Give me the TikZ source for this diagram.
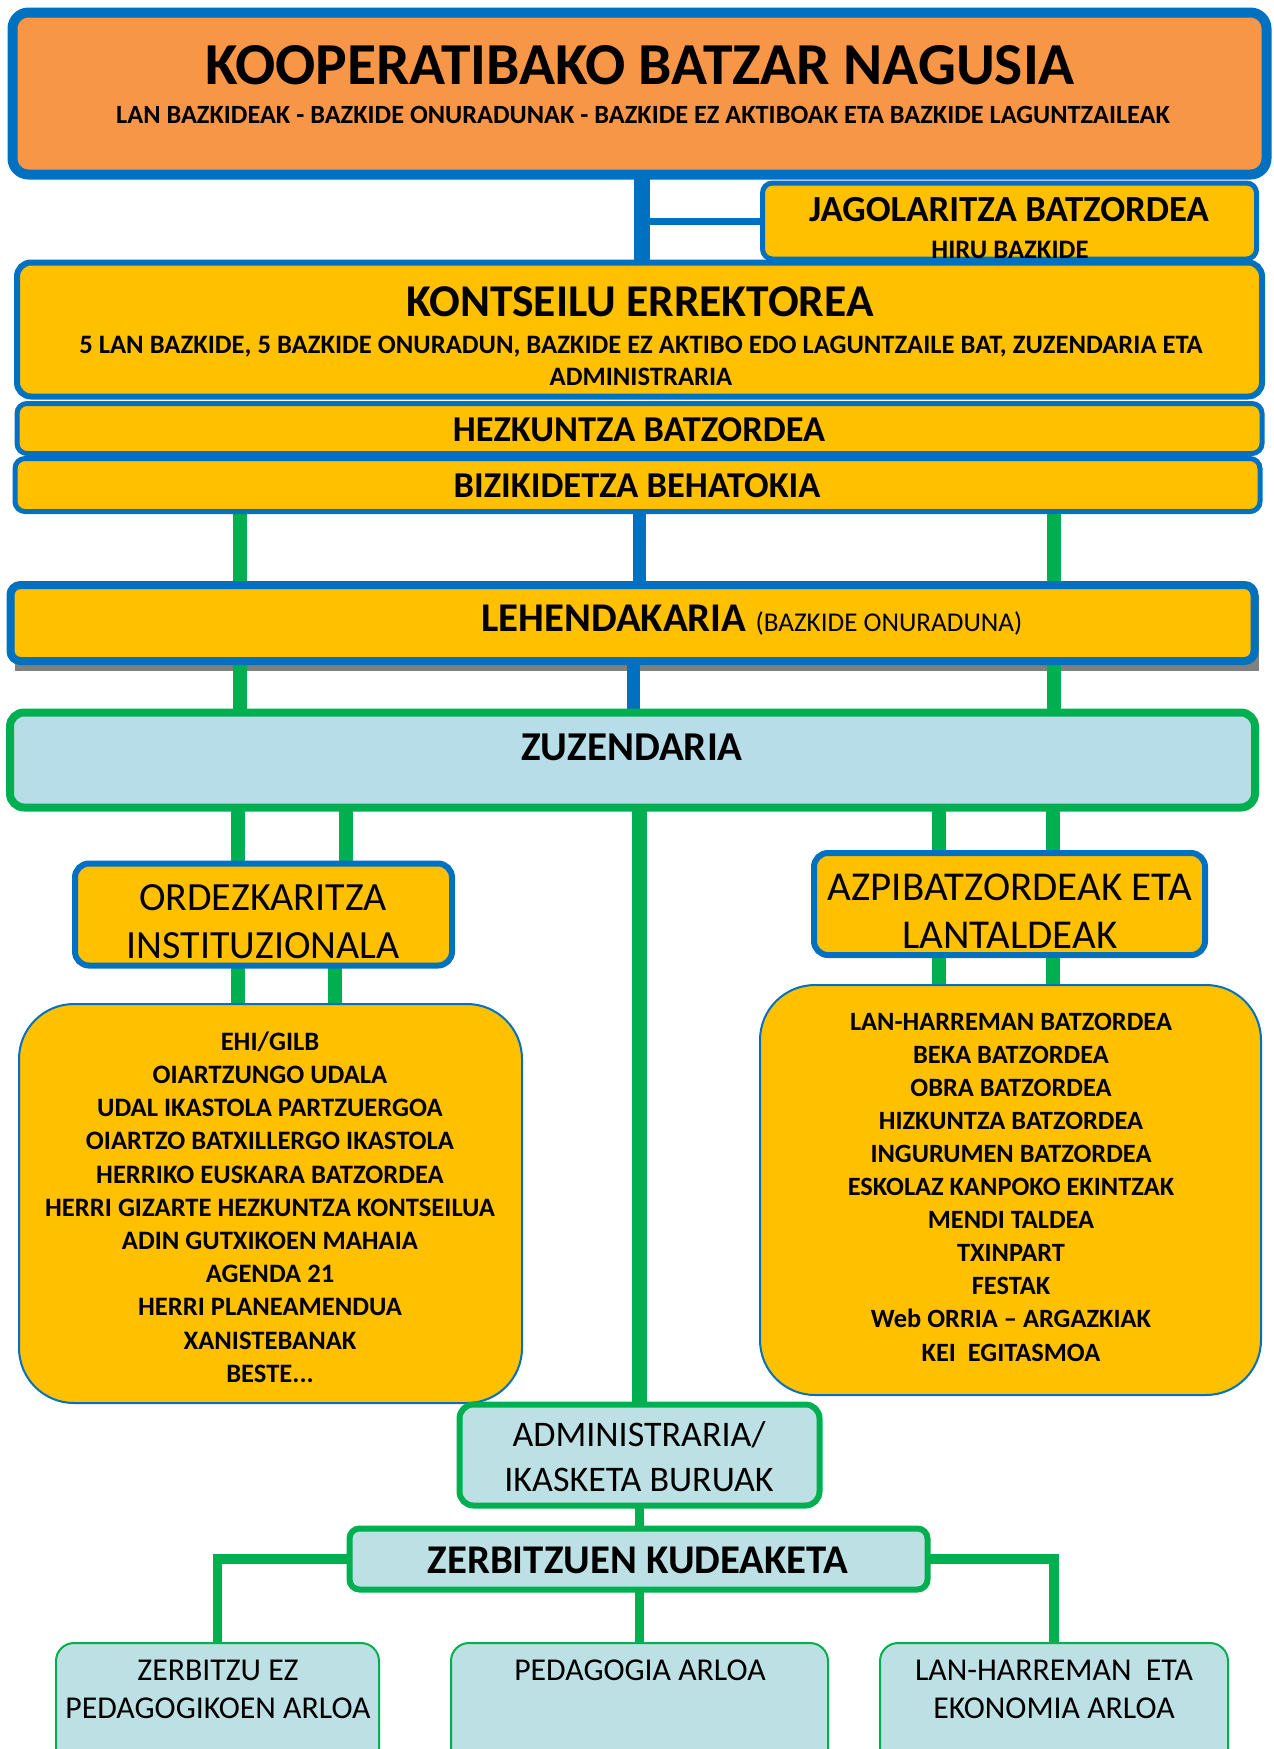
\documentclass[tikz,border=0pt]{standalone}
\usepackage{fontspec}
\setmainfont{Carlito}
\definecolor{cblue}{HTML}{0070C0}
\definecolor{corange}{HTML}{F79646}
\definecolor{cyellow}{HTML}{FFC000}
\definecolor{cgreen}{HTML}{00B050}
\definecolor{clblue}{HTML}{B7DDE8}
\definecolor{cpale}{HTML}{BCE0E3}
\pgfdeclarelayer{bg}
\pgfsetlayers{bg,main}
\begin{document}
\begin{tikzpicture}[x=1pt,y=-1pt,
  bx/.style={rectangle, inner sep=0pt, outer sep=0pt},
  ybox/.style={bx, draw=cblue, fill=cyellow},
  gbox/.style={bx, draw=cgreen, fill=cpale},
  lbl/.style={inner sep=0pt, outer sep=0pt, align=center, text=black},
  bconn/.style={draw=cblue, line width=13pt},
  gconn/.style={draw=cgreen, line width=14pt},
  gthin/.style={draw=cgreen, line width=9.5pt}]
\clip (0,0) rectangle (1274,1749);

% ---- boxes ----
\node[bx, draw=cblue, line width=10pt, fill=corange, rounded corners=16pt,
      minimum width=1254pt, minimum height=162pt] (top) at (639.5,93.5) {};
\node[lbl, font={\fontsize{59.5}{62}\selectfont\bfseries}] (topt) at (640,65) {KOOPERATIBAKO BATZAR NAGUSIA};
\node[lbl, font={\fontsize{26.3}{28}\selectfont\bfseries}] (tops) at (643,115) {LAN BAZKIDEAK - BAZKIDE ONURADUNAK - BAZKIDE EZ AKTIBOAK ETA BAZKIDE LAGUNTZAILEAK};

\node[ybox, line width=5pt, rounded corners=10pt, minimum width=494pt, minimum height=76pt] (jag) at (1009.5,221) {};
\node[lbl, font={\fontsize{36.8}{40}\selectfont\bfseries}] (jagt) at (1009,210) {JAGOLARITZA BATZORDEA};
\node[lbl, font={\fontsize{26.7}{28}\selectfont\bfseries}] (jags) at (1010,250) {HIRU BAZKIDE};

\node[ybox, line width=6pt, rounded corners=14pt, minimum width=1245pt, minimum height=134pt] (kon) at (639.5,329.5) {};
\node[lbl, font={\fontsize{45.5}{48}\selectfont\bfseries}] (kont) at (640,302) {KONTSEILU ERREKTOREA};
\node[lbl, font={\fontsize{26.6}{32}\selectfont\bfseries}] (kons) at (641,361) {5 LAN BAZKIDE, 5 BAZKIDE ONURADUN, BAZKIDE EZ AKTIBO EDO LAGUNTZAILE BAT, ZUZENDARIA ETA\\ADMINISTRARIA};

\node[ybox, line width=5pt, rounded corners=10pt, minimum width=1245pt, minimum height=50pt] (hez) at (639.5,428.5) {};
\node[lbl, font={\fontsize{36.4}{40}\selectfont\bfseries}] (hezt) at (639,430) {HEZKUNTZA BATZORDEA};

\node[ybox, line width=5pt, rounded corners=10pt, minimum width=1245pt, minimum height=53pt] (biz) at (637.5,485) {};
\node[lbl, font={\fontsize{36.4}{40}\selectfont\bfseries}] (bizt) at (637,486) {BIZIKIDETZA BEHATOKIA};

\node[ybox, line width=8pt, rounded corners=10pt, minimum width=1244pt, minimum height=76pt] (leh) at (632.5,623) {};
\node[lbl, font={\fontsize{40.8}{44}\selectfont\bfseries}] (leht) at (752,620) {LEHENDAKARIA {\fontsize{27.1}{30}\selectfont\mdseries (BAZKIDE ONURADUNA)}};

\node[bx, draw=cgreen, fill=clblue, line width=8pt, rounded corners=14pt, minimum width=1245pt, minimum height=95pt] (zuz) at (632.5,760) {};
\node[lbl, font={\fontsize{41}{44}\selectfont\bfseries}] (zuzt) at (632,747) {ZUZENDARIA};

\node[ybox, line width=6pt, rounded corners=14pt, minimum width=377pt, minimum height=102pt] (ord) at (263.5,914.5) {};
\node[lbl, font={\fontsize{40}{48}\selectfont}] (ordt) at (263,922) {ORDEZKARITZA\\INSTITUZIONALA};

\node[ybox, line width=6pt, rounded corners=14pt, minimum width=391pt, minimum height=102pt] (azp) at (1009.5,904) {};
\node[lbl, font={\fontsize{41}{48}\selectfont}] (azpt) at (1010,911) {AZPIBATZORDEAK ETA\\LANTALDEAK};

\node[ybox, line width=2pt, rounded corners=55pt, minimum width=503pt, minimum height=399pt] (llist) at (270.5,1203.5) {};
\node[lbl, font={\fontsize{26.6}{33.2}\selectfont\bfseries}] (llistt) at (270,1207) {EHI/GILB\\OIARTZUNGO UDALA\\UDAL IKASTOLA PARTZUERGOA\\OIARTZO BATXILLERGO IKASTOLA\\HERRIKO EUSKARA BATZORDEA\\HERRI GIZARTE HEZKUNTZA KONTSEILUA\\ADIN GUTXIKOEN MAHAIA\\AGENDA 21\\HERRI PLANEAMENDUA\\XANISTEBANAK\\BESTE...};

\node[ybox, line width=2pt, rounded corners=55pt, minimum width=501pt, minimum height=410pt] (rlist) at (1010.5,1190) {};
\node[lbl, font={\fontsize{26.4}{33.1}\selectfont\bfseries}] (rlistt) at (1011,1187) {LAN-HARREMAN BATZORDEA\\BEKA BATZORDEA\\OBRA BATZORDEA\\HIZKUNTZA BATZORDEA\\INGURUMEN BATZORDEA\\ESKOLAZ KANPOKO EKINTZAK\\MENDI TALDEA\\TXINPART\\FESTAK\\Web ORRIA -- ARGAZKIAK\\KEI\ \ EGITASMOA};

\node[gbox, line width=6pt, rounded corners=14pt, minimum width=360pt, minimum height=101pt] (adm) at (639.5,1455) {};
\node[lbl, font={\fontsize{36}{45}\selectfont}] (admt) at (639,1457) {ADMINISTRARIA/\\IKASKETA BURUAK};

\node[gbox, line width=6pt, rounded corners=10pt, minimum width=578pt, minimum height=61pt] (zer) at (638.5,1559) {};
\node[lbl, font={\fontsize{40.8}{44}\selectfont\bfseries}] (zert) at (638,1560) {ZERBITZUEN KUDEAKETA};

\node[gbox, line width=2pt, rounded corners=18pt, minimum width=323pt, minimum height=140pt] (b1) at (217.5,1713) {};
\node[lbl, font={\fontsize{31.8}{38}\selectfont}] (b1t) at (218,1689) {ZERBITZU EZ\\PEDAGOGIKOEN ARLOA};
\node[gbox, line width=2pt, rounded corners=18pt, minimum width=377pt, minimum height=140pt] (b2) at (639.5,1713) {};
\node[lbl, font={\fontsize{31.8}{38}\selectfont}] (b2t) at (640,1670) {PEDAGOGIA ARLOA};
\node[gbox, line width=2pt, rounded corners=18pt, minimum width=348pt, minimum height=140pt] (b3) at (1054,1713) {};
\node[lbl, font={\fontsize{31.8}{38}\selectfont}] (b3t) at (1054,1689) {LAN-HARREMAN\ \ ETA\\EKONOMIA ARLOA};

% ---- connectors ----
\coordinate (vx) at (641.5,0);
\coordinate (gL) at (240,0);
\coordinate (gM) at (639,0);
\coordinate (gM2) at (633,0);
\coordinate (gR) at (1054,0);
\coordinate (oA) at (238,0);
\coordinate (oB) at (346,0);
\coordinate (oC) at (335,0);
\coordinate (aA) at (939,0);
\coordinate (aB) at (1053,0);
\begin{pgfonlayer}{bg}
\draw[bconn, line width=16pt] (top.south -| vx) -- (kon.north -| vx);
\draw[bconn, line width=7pt] (vx |- jag.west) -- (jag.west);
\draw[gconn] (biz.south -| gL) -- (leh.north -| gL);
\draw[bconn] (biz.south -| gM) -- (leh.north -| gM);
\draw[gconn] (biz.south -| gR) -- (leh.north -| gR);
\fill[gray] ([shift={(4,10)}]leh.south west) rectangle ([shift={(4,10)}]leh.north east);
\draw[gconn] (leh.south -| gL) -- (zuz.north -| gL);
\draw[bconn] (leh.south -| gM2) -- (zuz.north -| gM2);
\draw[gconn] (leh.south -| gR) -- (zuz.north -| gR);
\draw[gconn] (zuz.south -| oA) -- (ord.north -| oA);
\draw[gconn] (zuz.south -| oB) -- (ord.north -| oB);
\draw[gconn] (ord.south -| oA) -- (llist.north -| oA);
\draw[gconn] (ord.south -| oC) -- (llist.north -| oC);
\draw[gconn] (zuz.south -| aA) -- (azp.north -| aA);
\draw[gconn] (zuz.south -| aB) -- (azp.north -| aB);
\draw[gconn] (azp.south -| aA) -- (rlist.north -| aA);
\draw[gconn] (azp.south -| aB) -- (rlist.north -| aB);
\draw[gconn, line width=15pt] (zuz.south -| adm.north) -- (adm.north);
\draw[gthin] (adm.south) -- (zer.north -| adm.south);
\draw[gthin] (zer.west) -| (b1.north);
\draw[gthin] (zer.south -| b2.north) -- (b2.north);
\draw[gthin] (zer.east) -| (b3.north);
\end{pgfonlayer}
\end{tikzpicture}
\end{document}
